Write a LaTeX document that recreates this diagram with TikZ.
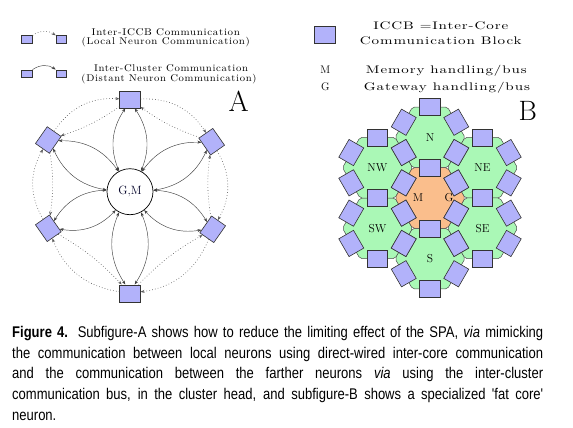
\documentclass[tikz,border=0pt]{standalone}
\usepackage{fontspec}
\usepackage{graphicx}
\usetikzlibrary{arrows.meta,calc}
\newfontfamily\capfont{Liberation Sans}[FakeStretch=0.84]
\newfontfamily\lgfont{lmroman10-regular.otf}[LetterSpace=6]
\definecolor{sqfill}{RGB}{178,178,250}
\definecolor{hexgreen}{RGB}{170,248,182}
\definecolor{hexorange}{RGB}{250,190,140}
\newcommand\mylegend[2]{\resizebox{#1}{\height}{\lgfont\fontsize{9.8}{10}\selectfont #2}}
\newcommand\mylegendB[2]{\resizebox{#1}{\height}{\lgfont\fontsize{11}{12}\selectfont #2}}
\newcommand\capline[1]{\makebox[531pt][s]{\capfont\fontsize{15.5}{18}\selectfont #1}}
\begin{document}
\begin{tikzpicture}[x=1pt,y=-1pt,
  sq/.style={draw=black!80, fill=sqfill, line width=0.6pt, minimum width=20.5pt, minimum height=17pt, inner sep=0pt},
  lsq/.style={draw=black!80, fill=sqfill, line width=0.5pt, minimum width=10.7pt, minimum height=7.7pt, inner sep=0pt},
  solidarr/.style={draw=black!75, line width=0.45pt, {Stealth[length=4pt,width=3pt]}-{Stealth[length=4pt,width=3pt]}},
  onearr/.style={draw=black!75, line width=0.45pt, -{Stealth[length=4pt,width=3pt]}},
  dotarr/.style={draw=black!65, line width=0.6pt, dash pattern=on 0.7pt off 2.2pt, -{Stealth[length=4pt,width=3pt]}},
  hexg/.style={draw=black!70, fill=hexgreen, line width=0.5pt, rounded corners=2pt},
  hexo/.style={draw=black!70, fill=hexorange, line width=0.5pt, rounded corners=2pt},
  lab/.style={font=\fontsize{11.5}{12}\selectfont, inner sep=0pt},
  lgtext/.style={anchor=base, inner sep=0pt}
]
\useasboundingbox (0,0) rectangle (573,428);

% ---------- Legend A ----------
\node[lsq] (l1a) at (27,39.5) {};
\node[lsq] (l1b) at (61.3,39.5) {};
\draw[dotarr] (l1a.north east) to[bend left=35] (l1b.north west);
\node[lsq] (l2a) at (27,73.7) {};
\node[lsq] (l2b) at (61.3,73.7) {};
\draw[onearr] (l2a.north east) to[bend left=35] (l2b.north west);
\node[lgtext] (lg1) at (165.8,35.4) {\mylegend{148.3pt}{Inter-ICCB Communication}};
\node[lgtext] (lg2) at (165.8,44.4) {\mylegend{168.3pt}{(Local Neuron Communication)}};
\node[lgtext] (lg3) at (171,71.2) {\mylegend{154pt}{Inter-Cluster Communication}};
\node[lgtext] (lg4) at (169,81.5) {\mylegend{175pt}{(Distant Neuron Communication)}};

% ---------- Subfigure A ----------
\node[circle, draw=black, line width=0.7pt, minimum size=46pt, inner sep=0pt, font=\fontsize{12}{12}\selectfont, text=black!85!blue] (C) at (130,191.7) {G,M};
\node[sq] (T) at (130,99.5) {};
\node[sq, rotate=55] (UL) at (48.3,140) {};
\node[sq, rotate=-55] (UR) at (211.7,141.7) {};
\node[sq, rotate=-55] (LL) at (48.3,228.3) {};
\node[sq, rotate=55] (LR) at (212.7,229.3) {};
\node[sq] (B) at (130,293.3) {};
\node[anchor=base west, inner sep=0pt, font=\fontsize{29}{29}\selectfont] (labA) at (228.3,111.7) {A};

\foreach \n in {T,UL,UR,LL,LR,B}{
  \draw[solidarr] (C) to[bend left=28] (\n);
  \draw[solidarr] (C) to[bend right=28] (\n);
}
% outer ring (clockwise)
\draw[dotarr] (UL) to[bend left=30] (T);
\draw[dotarr] (T) to[bend left=30] (UR);
\draw[dotarr] (UR) to[bend left=30] (LR);
\draw[dotarr] (LR) to[bend left=30] (B);
\draw[dotarr] (B) to[bend left=30] (LL);
\draw[dotarr] (LL) to[bend left=30] (UL);
% inner (counter-clockwise)
\draw[dotarr] (T) to[bend left=8] (UL);
\draw[dotarr] (UL) to[bend left=8] (LL);
\draw[dotarr] (LL) to[bend left=8] (B);
\draw[dotarr] (B) to[bend left=8] (LR);
\draw[dotarr] (LR) to[bend left=8] (UR);
\draw[dotarr] (UR) to[bend left=8] (T);

% ---------- Legend B ----------
\node[sq] (bl) at (325,34.7) {};
\node[lgtext] (bt1) at (440.8,30) {\mylegendB{135pt}{ICCB =Inter-Core}};
\node[lgtext] (bt2) at (440.8,45) {\mylegendB{161.7pt}{Communication Block}};
\node[lgtext, font=\fontsize{11}{12}\selectfont] (bm) at (325.3,74) {M};
\node[lgtext] (bmt) at (446.3,74) {\mylegendB{160.7pt}{Memory handling/bus}};
\node[lgtext, font=\fontsize{11}{12}\selectfont] (bg) at (325.3,90.7) {G};
\node[lgtext] (bgt) at (447,90.7) {\mylegendB{166pt}{Gateway handling/bus}};
\node[anchor=base west, inner sep=0pt, font=\fontsize{28}{28}\selectfont] (labB) at (518.5,120) {B};

% ---------- Subfigure B ----------
\coordinate (hM) at (430,198);
\coordinate (hN) at (430,137.4);
\coordinate (hS) at (430,258.6);
\coordinate (hNE) at (482.5,167.7);
\coordinate (hSE) at (482.5,228.3);
\coordinate (hNW) at (377.5,167.7);
\coordinate (hSW) at (377.5,228.3);
\foreach \c in {N,NE,SE,S,SW,NW}{
  \draw[hexg] ($(h\c)+(0:35)$) -- ($(h\c)+(60:35)$) -- ($(h\c)+(120:35)$) -- ($(h\c)+(180:35)$) -- ($(h\c)+(240:35)$) -- ($(h\c)+(300:35)$) -- cycle;
}
\draw[hexo] ($(hM)+(0:35)$) -- ($(hM)+(60:35)$) -- ($(hM)+(120:35)$) -- ($(hM)+(180:35)$) -- ($(hM)+(240:35)$) -- ($(hM)+(300:35)$) -- cycle;
\foreach \c in {N,NE,SE,S,SW,NW}{
  \node[lab] (t\c) at (h\c) {\c};
}
\node[lab] (tM) at (418,197.5) {M};
\node[lab] (tG) at (449,197.5) {G};
\foreach \c in {M,N,NE,SE,S,SW,NW}{
  \foreach \a in {30,90,150,210,270,330}{
    \pgfmathsetmacro{\r}{90-\a}
    \node[sq, rotate=\r] (s\c\a) at ($(h\c)+(\a:30.3)$) {};
  }
}

% ---------- Caption ----------
\node[anchor=base west, inner sep=0pt] (cap1) at (12,337) {\capline{\textbf{Figure 4.} Subfigure-A shows how to reduce the limiting effect of the SPA, \textit{via} mimicking}};
\node[anchor=base west, inner sep=0pt] (cap2) at (12,358) {\capline{the communication between local neurons using direct-wired inter-core communication}};
\node[anchor=base west, inner sep=0pt] (cap3) at (12,378.5) {\capline{and the communication between the farther neurons \textit{via} using the inter-cluster}};
\node[anchor=base west, inner sep=0pt] (cap4) at (12,399) {\capline{communication bus, in the cluster head, and subfigure-B shows a specialized 'fat core'}};
\node[anchor=base west, inner sep=0pt, font=\capfont\fontsize{15.5}{18}\selectfont] (cap5) at (12,420) {neuron.};
\end{tikzpicture}
\end{document}
